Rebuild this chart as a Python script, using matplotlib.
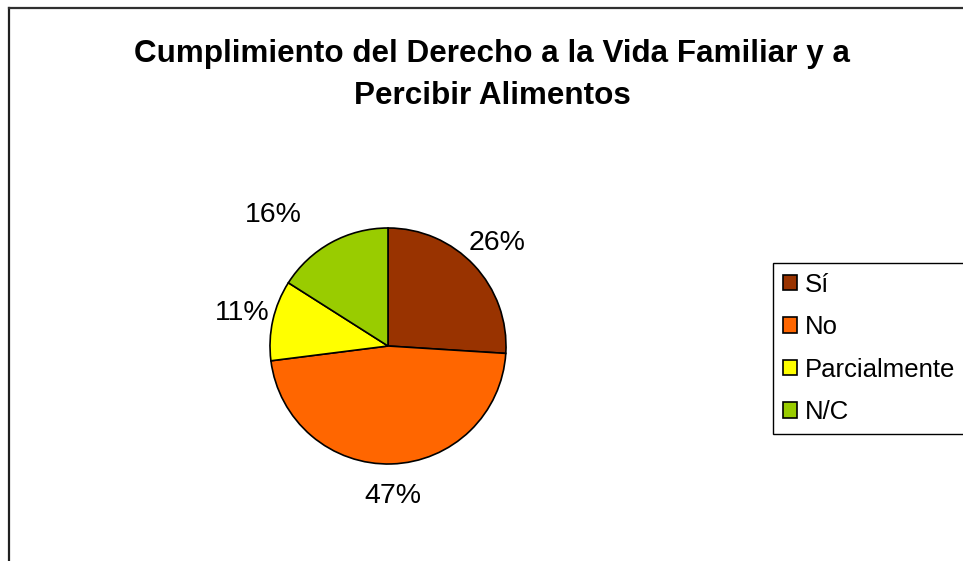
import matplotlib
matplotlib.use("Agg")
import matplotlib.pyplot as plt
from matplotlib.lines import Line2D

plt.rcParams['font.family'] = ['Liberation Sans', 'DejaVu Sans']

# Datos
categorias = ["Sí", "No", "Parcialmente", "N/C"]
porcentajes = [26, 47, 11, 16]
colores = ["#993300", "#FF6600", "#FFFF00", "#99CC00"]
titulo = "Cumplimiento del Derecho a la Vida Familiar y a\nPercibir Alimentos"

W, H = 963, 561
fig = plt.figure(figsize=(W / 100, H / 100), dpi=100)

# Marco del gráfico (cortado a la derecha y abajo)
fig.add_artist(Line2D([9 / W, 9 / W], [1 - 8 / H, -0.1], color="#202020", lw=1.6))
fig.add_artist(Line2D([9 / W, 1.1], [1 - 8 / H, 1 - 8 / H], color="#303030", lw=1.6))

fig.text(492 / W, 1 - 75 / H, titulo, ha="center", va="center",
         fontsize=22.6, fontweight="bold", linespacing=1.52)

# Tarta
cx, cy, r = 388, 346, 118
ax = fig.add_axes([(cx - r) / W, (H - cy - r) / H, 2 * r / W, 2 * r / H])
cuñas, textos, pct = ax.pie(porcentajes, colors=colores, startangle=90,
                            counterclock=False, autopct="%1.0f%%",
                            pctdistance=1.27,
                            wedgeprops=dict(edgecolor="black", linewidth=1.2),
                            textprops=dict(fontsize=20.5))
# Excel coloca la etiqueta de N/C algo más a la izquierda
x, y = pct[3].get_position()
pct[3].set_position((x - 0.36, y + 0.0))
ax.set_xlim(-1, 1)
ax.set_ylim(-1, 1)
ax.set_aspect("equal")
ax.axis("off")

fig.legend(cuñas, categorias, loc="upper left",
           bbox_to_anchor=(773 / W, 1 - 263 / H), bbox_transform=fig.transFigure,
           borderaxespad=0, fancybox=False, edgecolor="black", framealpha=1,
           fontsize=18.5, handlelength=0.55, handleheight=0.55, handletextpad=0.3,
           labelspacing=0.72, borderpad=0.38)

fig.savefig("out.png", dpi=100)
